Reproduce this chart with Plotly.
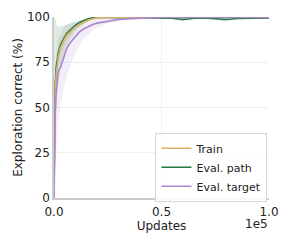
import plotly.graph_objects as go

updates = [0, 300, 600, 1000, 1500, 2000, 3000, 4000, 5000, 6000, 8000, 10000, 12000, 14000,
           16000, 18000, 20000, 25000, 30000, 35000, 40000, 45000, 50000, 55000, 60000, 65000,
           70000, 75000, 80000, 85000, 90000, 95000, 100000]

train_mean = [0, 40, 58, 68, 74, 78, 83, 86, 88, 90, 92.5, 94.5, 96, 97.3, 98.3, 99, 99.5, 99.8,
              99.9, 99.9, 100, 100, 100, 100, 100, 100, 100, 100, 100, 100, 100, 100, 100]
train_low = [0, 30, 50, 61, 68, 73, 79, 82.5, 85, 87.5, 90.5, 93, 94.8, 96.4, 97.6, 98.5, 99.1,
             99.5, 99.7, 99.7, 99.8, 99.8, 99.8, 99.8, 99.8, 99.8, 99.8, 99.8, 99.8, 99.8, 99.8, 99.8, 99.8]
train_high = [0, 50, 66, 75, 80, 83, 87, 89.5, 91, 92.5, 94.5, 96, 97.2, 98.2, 99, 99.5, 99.9,
              100, 100, 100, 100, 100, 100, 100, 100, 100, 100, 100, 100, 100, 100, 100, 100]

path_mean = [10, 48, 63, 72, 77, 80, 84.5, 87, 89, 91, 93.5, 95.5, 97, 98.2, 99, 99.5, 99.8,
             99.8, 99.7, 99.6, 99.7, 99.5, 99.5, 99.3, 98.6, 99.3, 99.5, 99.2, 98.6, 99.2, 99.4, 99.5, 99.5]
path_low = [0, 20, 35, 48, 58, 64, 72, 77, 81, 84, 88.5, 92, 94.5, 96.5, 97.8, 98.6, 99.2,
            99.2, 98.8, 99, 99.1, 98.9, 98.9, 98.6, 97.5, 98.6, 98.9, 98.5, 97.5, 98.5, 98.9, 99, 99]
path_high = [100, 100, 99, 97, 95, 94.5, 94.8, 95.2, 95.5, 96, 96.8, 97.5, 98.3, 99, 99.5, 99.8,
             100, 100, 100, 100, 100, 100, 100, 100, 99.6, 100, 100, 100, 99.6, 100, 100, 100, 100]

target_mean = [0, 30, 48, 58, 65, 70, 72, 76, 80, 83, 86.5, 89.5, 92, 93.5, 94.8, 95.8, 96.6,
               97.8, 98.6, 99.1, 99.4, 99.6, 99.7, 99.8, 99.8, 99.8, 99.8, 99.8, 99.8, 99.8, 99.8, 99.8, 99.8]
target_low = [0, 5, 15, 25, 35, 42, 52, 58, 64, 68, 75, 80, 85, 88, 90.5, 92.5, 94, 96.5, 97.8,
              98.5, 98.8, 99, 99.1, 99.2, 99.2, 99.2, 99.2, 99.2, 99.2, 99.2, 99.2, 99.2, 99.2]
target_high = [60, 60, 72, 80, 85, 88, 91, 93, 94.5, 95.5, 96.5, 97.5, 98.2, 98.8, 99.2, 99.5,
               99.8, 100, 100, 100, 100, 100, 100, 100, 100, 100, 100, 100, 100, 100, 100, 100, 100]

series_names = ["Train", "Eval. path", "Eval. target"]
x_tick_vals = [0, 50000, 100000]
x_tick_text = ["0.0", "0.5", "1.0"]
y_tick_vals = [0, 25, 50, 75, 100]

colors = {"Train": "#d9b26a", "Eval. path": "#237a3e", "Eval. target": "#ab86cf"}
fills = {"Train": "rgba(217,178,106,0.25)", "Eval. path": "rgba(35,122,62,0.15)",
         "Eval. target": "rgba(171,134,207,0.15)"}

data = {
    "Train": (train_mean, train_low, train_high),
    "Eval. path": (path_mean, path_low, path_high),
    "Eval. target": (target_mean, target_low, target_high),
}

fig = go.Figure()
for name in ["Eval. target", "Eval. path", "Train"]:
    m, lo, hi = data[name]
    fig.add_trace(go.Scatter(x=updates, y=hi, mode="lines", line=dict(width=0),
                             showlegend=False, hoverinfo="skip"))
    fig.add_trace(go.Scatter(x=updates, y=lo, mode="lines", line=dict(width=0),
                             fill="tonexty", fillcolor=fills[name],
                             showlegend=False, hoverinfo="skip"))

draw_order = ["Eval. path", "Train", "Eval. target"]
ranks = {"Train": 1, "Eval. path": 2, "Eval. target": 3}
for name in draw_order:
    m = data[name][0]
    fig.add_trace(go.Scatter(x=updates, y=m, mode="lines", name=name,
                             line=dict(color=colors[name], width=1.6),
                             legendrank=ranks[name]))

font = "DejaVu Sans, sans-serif"
fig.update_layout(
    width=291, height=242,
    margin=dict(l=46, r=30, t=9, b=52),
    paper_bgcolor="white", plot_bgcolor="white",
    font=dict(family=font, size=12, color="#222222"),
    showlegend=True,
    legend=dict(x=0.472, y=0.17, xanchor="left", yanchor="middle",
                traceorder="normal",
                bgcolor="rgba(255,255,255,0.85)", bordercolor="#d8d8d8", borderwidth=1,
                font=dict(family=font, size=11, color="#222222"),
                itemwidth=30, tracegroupgap=0),
    xaxis=dict(range=[0, 100000], tickvals=x_tick_vals, ticktext=x_tick_text,
               showgrid=True, gridcolor="#efefef", gridwidth=1,
               showline=True, linecolor="#cccccc", linewidth=1.5,
               zeroline=False, ticks="", ticklen=0, automargin=False,
               tickfont=dict(size=12), ticklabelstandoff=2,
               title=dict(text="Updates", font=dict(size=12), standoff=1)),
    yaxis=dict(range=[0, 100], tickvals=y_tick_vals,
               showgrid=True, gridcolor="#efefef", gridwidth=1,
               showline=True, linecolor="#cccccc", linewidth=1.5,
               zeroline=False, ticks="", ticklen=0, automargin=False,
               tickfont=dict(size=12),
               title=dict(text="Exploration correct (%)", font=dict(size=12), standoff=2)),
    annotations=[dict(text="1e5", x=1, y=0, xref="paper", yref="paper",
                      xanchor="right", yanchor="top", yshift=-17, xshift=1,
                      showarrow=False, font=dict(family=font, size=12, color="#222222"))],
)

fig.write_html("out.html")
